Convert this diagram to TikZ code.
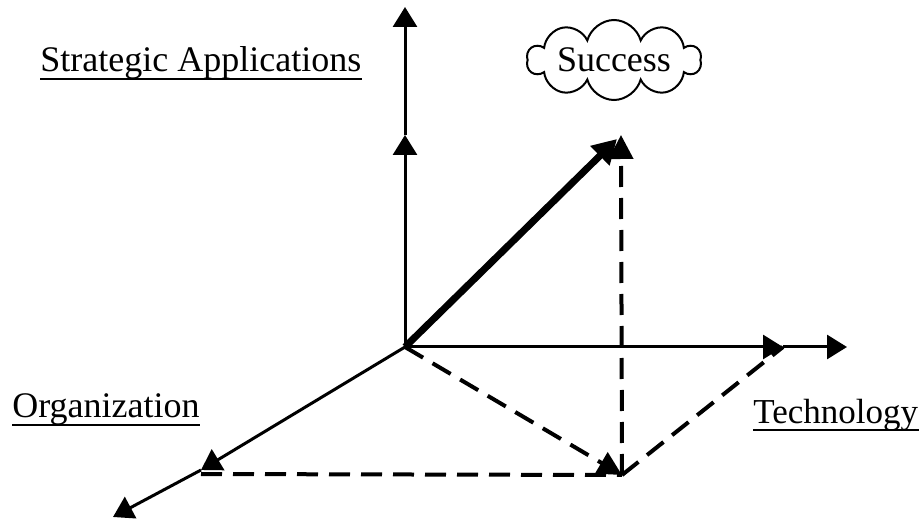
\documentclass[tikz,border=0pt]{standalone}
\usepackage{fontspec}
\setmainfont{Liberation Serif}
\usetikzlibrary{arrows.meta,shapes.symbols}
\begin{document}
\begin{tikzpicture}[x=0.5pt,y=-0.5pt,
  axis/.style={line width=1.5pt,-{Triangle[length=10pt,width=12pt]}},
  dashline/.style={line width=2pt,dash pattern=on 10.5pt off 5.5pt},
  lbl/.style={font=\fontsize{18}{20}\selectfont,inner sep=0pt,anchor=base west},
  uline/.style={line width=0.8pt}]
\useasboundingbox (0,0) rectangle (923,519);
% points
\coordinate (O) at (405,347);
\coordinate (V1) at (405,135);
\coordinate (V2) at (405,7);
\coordinate (H1) at (783,347);
\coordinate (H2) at (847,347);
\coordinate (D1) at (201,470);
\coordinate (D2) at (113,517);
\coordinate (B) at (201,474);
\coordinate (P) at (622,475);
\coordinate (S) at (621,135);
\coordinate (T) at (617,139);
% axes
\draw[axis] (O) -- (V1);
\draw[axis] (V1) -- (V2);
\draw[axis] (O) -- (H1);
\draw[axis] (H1) -- (H2);
\draw[axis] (O) -- (D1);
\draw[axis] (D1) -- (D2);
% dashed construction
\draw[dashline] (B) -- (P);
\draw[dashline,-{Triangle[length=12pt,width=12pt]}] (O) -- (P);
\draw[dashline,-{Triangle[length=12pt,width=12pt]}] (P) -- (S);
\draw[dashline] (P) -- (H1);
% resultant
\draw[line width=3.5pt,-{Triangle[length=12pt,width=13pt]}] (O) -- (T);
% cloud
\node[cloud,cloud puffs=10,cloud ignores aspect,minimum width=87pt,minimum height=40pt,
  draw,line width=1pt,inner sep=0pt,font=\fontsize{18}{20}\selectfont] (succ) at (614,60) {Success};
% labels
\node[lbl] (sa) at (40,72) {Strategic Applications};
\draw[uline] ([yshift=-3.5pt]sa.base west) -- ([yshift=-3.5pt]sa.base east);
\node[lbl] (org) at (12,417) {Organization};
\draw[uline] ([yshift=-4pt]org.base west) -- ([yshift=-4pt]org.base east);
\node[lbl,font=\fontsize{17.5}{20}\selectfont] (tech) at (753,423) {Technology};
\draw[uline] ([yshift=-3.5pt]tech.base west) -- ([yshift=-3.5pt]tech.base east);
\end{tikzpicture}
\end{document}
